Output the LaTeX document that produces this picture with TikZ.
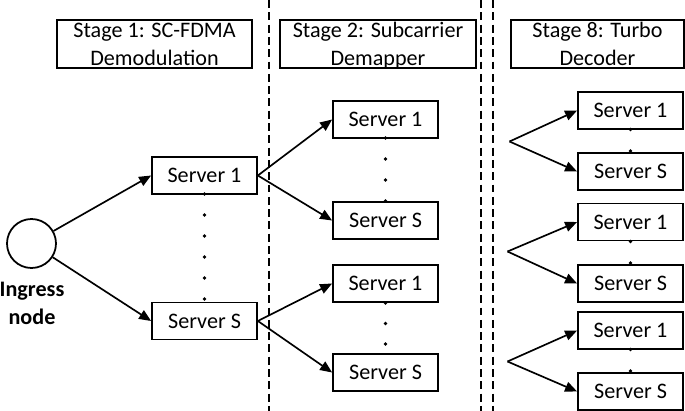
\documentclass[tikz,border=0pt]{standalone}
\usepackage{fontspec}
\setmainfont{Carlito}
\usetikzlibrary{arrows.meta}
\begin{document}
\begin{tikzpicture}[
        every node/.style={font=\fontsize{12.6pt}{16pt}\selectfont},
        server/.style={draw, line width=1pt, minimum width=2.1cm, minimum height=0.74cm, inner sep=0pt},
        stagebox/.style={draw, line width=1pt, minimum height=0.96cm, align=center, inner sep=0pt},
        arr/.style={line width=0.95pt, -{Triangle[length=0.24cm,width=0.2cm]}},
        sep/.style={line width=0.95pt, dash pattern=on 4.5pt off 2.5pt}
    ]
        \useasboundingbox (0,0) rectangle (13.7,-8.22);
        % stage headers
        \node[stagebox, minimum width=3.9cm] (T1) at (3.09,-0.88) {Stage 1: SC-FDMA\\Demodulation};
        \node[stagebox, minimum width=3.92cm] (T2) at (7.56,-0.88) {Stage 2: Subcarrier\\\smash{Demapper}};
        \node[stagebox, minimum width=3.46cm] (T8) at (11.95,-0.88) {Stage 8: Turbo\\Decoder};
        % stage borders
        \draw[sep] (5.38,0) -- (5.38,-8.22);
        \draw[sep] (9.62,0) -- (9.62,-8.22);
        \draw[sep] (9.86,0) -- (9.86,-8.22);
        % ingress
        \node[draw, circle, line width=1pt, minimum size=0.98cm] (ing) at (0.63,-4.87) {};
        \node[align=center, inner sep=0pt] (ingl) at (0.64,-6.07) {\textbf{Ingress}\\\textbf{node}};
        % stage 1
        \node[server] (A1) at (4.09,-3.51) {Server 1};
        \node[server] (AS) at (4.09,-6.42) {Server S};
        % stage 2
        \node[server] (B1) at (7.71,-2.39) {Server 1};
        \node[server] (BS) at (7.71,-4.41) {Server S};
        \node[server] (C1) at (7.71,-5.67) {Server 1};
        \node[server] (CS) at (7.71,-7.45) {Server S};
        % stage 8
        \node[server] (D1) at (12.61,-2.21) {Server 1};
        \node[server] (DS) at (12.61,-3.43) {Server S};
        \node[server] (E1) at (12.61,-4.44) {Server 1};
        \node[server] (ES) at (12.61,-5.67) {Server S};
        \node[server] (F1) at (12.61,-6.61) {Server 1};
        \node[server] (FS) at (12.61,-7.83) {Server S};
        \coordinate (fD) at (10.19,-2.83);
        \coordinate (fE) at (10.15,-5.03);
        \coordinate (fF) at (10.15,-7.23);
        % dots
        \fill (4.09,-3.88) circle (0.036) (4.09,-4.30) circle (0.036) (4.09,-4.72) circle (0.036)
              (4.09,-5.14) circle (0.036) (4.09,-5.56) circle (0.036) (4.09,-5.98) circle (0.036);
        \fill (7.71,-2.76) circle (0.036) (7.71,-3.18) circle (0.036) (7.71,-3.60) circle (0.036)
              (7.71,-4.02) circle (0.036);
        \fill (7.71,-6.06) circle (0.036) (7.71,-6.47) circle (0.036) (7.71,-6.88) circle (0.036);
        \fill (12.61,-2.59) circle (0.036) (12.61,-3.02) circle (0.036);
        \fill (12.61,-4.83) circle (0.036) (12.61,-5.26) circle (0.036);
        \fill (12.61,-6.99) circle (0.036) (12.61,-7.42) circle (0.036);
        % links
        \draw[arr] (ing) -- (A1.west);
        \draw[arr] (ing) -- (AS.west);
        \draw[arr] (A1.east) -- (B1.west);
        \draw[arr] (A1.east) -- (BS.west);
        \draw[arr] (AS.east) -- (C1.west);
        \draw[arr] (AS.east) -- (CS.west);
        \draw[arr] (fD) -- (D1.west);
        \draw[arr] (fD) -- (DS.west);
        \draw[arr] (fE) -- (E1.west);
        \draw[arr] (fE) -- (ES.west);
        \draw[arr] (fF) -- (F1.west);
        \draw[arr] (fF) -- (FS.west);
    \end{tikzpicture}
\end{document}
